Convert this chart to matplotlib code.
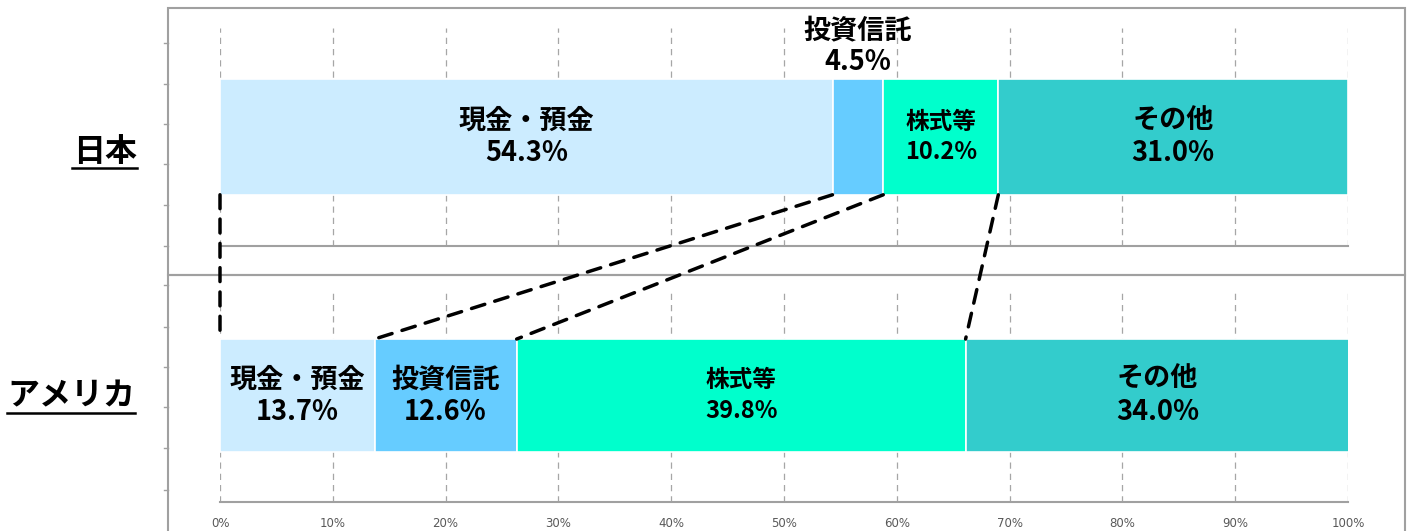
import matplotlib
matplotlib.use("Agg")
import matplotlib.pyplot as plt
from matplotlib.patches import Rectangle, ConnectionPatch
from matplotlib.lines import Line2D

plt.rcParams['font.family'] = ['Noto Sans CJK JP', 'DejaVu Sans']

# ---- data ----
categories = ["現金・預金", "投資信託", "株式等", "その他"]
japan_values = [54.3, 4.5, 10.2, 31.0]
us_values = [13.7, 12.6, 39.8, 34.0]
country_labels = ["日本", "アメリカ"]
tick_values = [0, 10, 20, 30, 40, 50, 60, 70, 80, 90, 100]
tick_labels = [f"{v}%" for v in tick_values]
colors = ["#CCECFF", "#66CCFF", "#00FFCC", "#33CCCC"]

W, H = 1413, 531
fig = plt.figure(figsize=(W / 100, H / 100), dpi=100)


def fx(px):
    return px / W


def fy(py):
    return 1 - py / H


def make_axes(top, bottom):
    ax = fig.add_axes([fx(220), fy(bottom), fx(1348) - fx(220), fy(top) - fy(bottom)])
    ax.set_xlim(0, 100)
    ax.set_ylim(0, 1)
    for s in ["top", "left", "right"]:
        ax.spines[s].set_visible(False)
    ax.spines["bottom"].set_color("#A0A0A0")
    ax.spines["bottom"].set_linewidth(1.5)
    ax.set_yticks([])
    for v in tick_values:
        ax.axvline(v, color="#A6A6A6", lw=0.9, ls=(0, (5, 4)), zorder=0)
    return ax


# frames (chart areas)
gray = "#A0A0A0"
fig.add_artist(Rectangle((fx(168), fy(275)), fx(1405) - fx(168), fy(8) - fy(275),
                         transform=fig.transFigure, fill=False, ec=gray, lw=1.5))
fig.add_artist(Rectangle((fx(168), fy(545)), fx(1405) - fx(168), fy(275) - fy(545),
                         transform=fig.transFigure, fill=False, ec=gray, lw=1.5))
# small frame ticks on left edges
for py in [43, 84, 124, 164, 205, 246]:
    fig.add_artist(Line2D([fx(164), fx(168)], [fy(py), fy(py)], color=gray, lw=1))
for py in [285, 327, 367, 407, 448, 490]:
    fig.add_artist(Line2D([fx(164), fx(168)], [fy(py), fy(py)], color=gray, lw=1))

ax1 = make_axes(28, 246)
ax1.set_xticks([])
ax2 = make_axes(289, 502)
ax2.set_xticks(tick_values)
ax2.set_xticklabels(tick_labels, fontsize=8.5, color="#595959", family=['DejaVu Sans'])
ax2.tick_params(axis="x", length=0, pad=11)

bar_h = 0.53


def draw_bars(ax, values):
    left = 0
    lefts = []
    for v, c in zip(values, colors):
        ax.barh(0.5, v, left=left, height=bar_h, color=c, edgecolor="white", lw=1.2, zorder=2)
        lefts.append(left)
        left += v
    return lefts


jl = draw_bars(ax1, japan_values)
ul = draw_bars(ax2, us_values)

big = 19.5
small = 17

# Japan labels
ax1.text(jl[0] + japan_values[0] / 2, 0.5, f"{categories[0]}\n{japan_values[0]:.1f}%",
         ha="center", va="center", fontsize=big, fontweight="bold", linespacing=1.2, zorder=3)
ax1.text(jl[1] + japan_values[1] / 2, 0.915, f"{categories[1]}\n{japan_values[1]:.1f}%",
         ha="center", va="center", fontsize=big, fontweight="bold", linespacing=1.15, zorder=3)
ax1.text(jl[2] + japan_values[2] / 2, 0.5, f"{categories[2]}\n{japan_values[2]:.1f}%",
         ha="center", va="center", fontsize=small, fontweight="bold", linespacing=1.3, zorder=3)
ax1.text(jl[3] + japan_values[3] / 2, 0.5, f"{categories[3]}\n{japan_values[3]:.1f}%",
         ha="center", va="center", fontsize=big, fontweight="bold", linespacing=1.2, zorder=3)

# US labels
for i in range(4):
    fs = small if i == 2 else big
    ax2.text(ul[i] + us_values[i] / 2, 0.5, f"{categories[i]}\n{us_values[i]:.1f}%",
             ha="center", va="center", fontsize=fs, fontweight="bold",
             linespacing=1.35 if i == 2 else 1.2, zorder=3)

# connecting dashed lines
for xa, xb in zip(jl, ul):
    cp = ConnectionPatch(xyA=(xa, 0.5 - bar_h / 2), coordsA=ax1.transData,
                         xyB=(xb, 0.5 + bar_h / 2), coordsB=ax2.transData,
                         color="black", lw=2.5, ls=(0, (4, 3)), zorder=5)
    fig.add_artist(cp)

# country labels with underline
fig.text(fx(105), fy(152), country_labels[0], ha="center", va="center",
         fontsize=23, fontweight="bold")
fig.add_artist(Line2D([fx(72), fx(137)], [fy(168), fy(168)], color="black", lw=1.8))
fig.text(fx(71), fy(396), country_labels[1],
         ha="center", va="center", fontsize=23, fontweight="bold")
fig.add_artist(Line2D([fx(7), fx(135)], [fy(413), fy(413)], color="black", lw=1.8))

fig.savefig("out.png", dpi=100)
